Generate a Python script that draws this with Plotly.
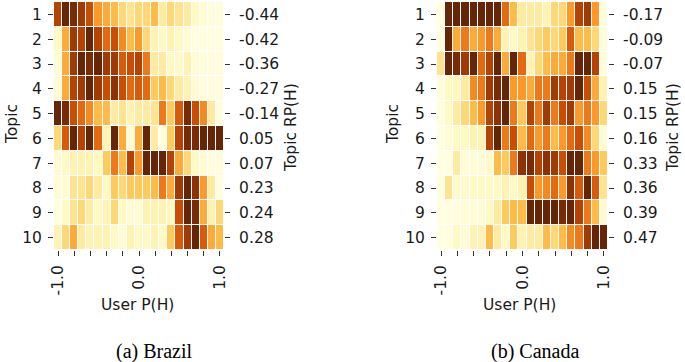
import plotly.graph_objects as go

bins = [-1.0, -0.9, -0.8, -0.7, -0.6, -0.5, -0.4, -0.3, -0.2, -0.1, 0.0,
        0.1, 0.2, 0.3, 0.4, 0.5, 0.6, 0.7, 0.8, 0.9, 1.0]
topics = [1, 2, 3, 4, 5, 6, 7, 8, 9, 10]
x_tick_vals = [-1.0, -0.8, -0.6, -0.4, -0.2, 0.0, 0.2, 0.4, 0.6, 0.8, 1.0]
x_tick_text = ["-1.0", "", "", "", "", "0.0", "", "", "", "", "1.0"]

brazil_rp = ["-0.44", "-0.42", "-0.36", "-0.27", "-0.14", "0.05", "0.07", "0.23", "0.24", "0.28"]
canada_rp = ["-0.17", "-0.09", "-0.07", "0.15", "0.15", "0.16", "0.33", "0.36", "0.39", "0.47"]

brazil_z = [
    [0.8, 1.0, 0.95, 0.85, 0.75, 0.5, 0.45, 0.4, 0.3, 0.25, 0.3, 0.3, 0.4, 0.2, 0.3, 0.25, 0.2, 0.1, 0.05, 0.03, 0.03],
    [0.1, 0.45, 0.85, 0.8, 1.0, 0.8, 0.65, 0.75, 0.55, 0.4, 0.5, 0.3, 0.15, 0.1, 0.15, 0.1, 0.05, 0.02, 0.02, 0.02, 0.02],
    [0.05, 0.45, 0.85, 1.0, 0.95, 1.0, 0.85, 0.85, 0.7, 0.75, 0.8, 0.6, 0.2, 0.2, 0.1, 0.08, 0.15, 0.05, 0.03, 0.03, 0.03],
    [0.05, 0.45, 0.8, 0.85, 1.0, 0.85, 0.75, 0.9, 0.75, 0.65, 0.7, 0.65, 0.35, 0.4, 0.3, 0.2, 0.15, 0.05, 0.03, 0.03, 0.03],
    [1.0, 0.95, 0.75, 0.65, 0.55, 0.4, 0.4, 0.2, 0.25, 0.15, 0.2, 0.2, 0.25, 0.6, 0.35, 0.7, 0.95, 0.75, 0.55, 0.2, 0.02],
    [0.3, 0.7, 1.0, 0.8, 1.0, 0.65, 0.15, 1.0, 0.45, 0.05, 0.45, 1.0, 0.2, 0.02, 0.35, 0.8, 0.95, 0.95, 1.0, 1.0, 1.0],
    [0.05, 0.1, 0.15, 0.15, 0.15, 0.1, 0.35, 0.6, 0.4, 0.8, 0.5, 1.0, 1.0, 1.0, 0.8, 0.45, 0.3, 0.1, 0.05, 0.03, 0.03],
    [0.05, 0.05, 0.25, 0.25, 0.3, 0.2, 0.1, 0.35, 0.3, 0.35, 0.35, 0.35, 0.4, 0.6, 0.45, 0.85, 1.0, 0.9, 0.5, 0.2, 0.02],
    [0.02, 0.1, 0.25, 0.3, 0.2, 0.1, 0.15, 0.3, 0.1, 0.05, 0.05, 0.15, 0.15, 0.15, 0.1, 0.75, 1.0, 0.95, 0.45, 0.15, 0.3],
    [0.15, 0.3, 0.45, 0.2, 0.15, 0.15, 0.15, 0.1, 0.05, 0.15, 0.1, 0.1, 0.15, 0.1, 0.35, 0.7, 0.85, 1.0, 0.7, 0.45, 0.4],
]

canada_z = [
    [0.02, 1.0, 1.0, 1.0, 1.0, 1.0, 1.0, 1.0, 0.65, 0.4, 0.2, 0.2, 0.2, 0.15, 0.3, 0.3, 0.5, 0.8, 0.85, 0.5, 0.03],
    [0.02, 1.0, 0.45, 0.6, 0.45, 0.5, 0.6, 0.45, 0.15, 0.1, 0.15, 0.25, 0.3, 0.35, 0.3, 0.35, 0.7, 0.4, 0.4, 0.3, 0.03],
    [0.25, 1.0, 0.95, 0.85, 1.0, 0.65, 0.8, 1.0, 0.45, 1.0, 0.65, 0.15, 0.3, 0.4, 0.45, 0.45, 0.6, 1.0, 1.0, 0.8, 0.03],
    [0.03, 0.1, 0.12, 0.2, 0.55, 0.6, 0.85, 0.95, 1.0, 0.5, 0.5, 0.45, 0.6, 0.6, 0.85, 0.8, 0.85, 1.0, 0.75, 0.45, 0.15],
    [0.03, 0.1, 0.2, 0.3, 0.4, 0.5, 0.8, 0.9, 1.0, 0.6, 0.35, 0.8, 0.6, 0.85, 0.6, 0.75, 0.85, 0.5, 0.6, 0.5, 0.3],
    [0.02, 0.05, 0.1, 0.1, 0.15, 0.15, 0.8, 1.0, 0.6, 0.75, 0.4, 0.65, 0.5, 0.6, 0.4, 0.5, 0.65, 0.75, 0.55, 0.3, 0.05],
    [0.02, 0.02, 0.2, 0.05, 0.05, 0.05, 0.08, 0.4, 0.35, 0.6, 0.9, 0.95, 0.8, 0.9, 0.85, 0.75, 1.0, 1.0, 0.6, 0.5, 0.35],
    [0.02, 0.25, 0.08, 0.08, 0.1, 0.1, 0.1, 0.1, 0.15, 0.1, 0.15, 0.75, 0.5, 0.55, 0.65, 0.5, 0.9, 0.7, 1.0, 0.7, 0.25],
    [0.02, 0.02, 0.03, 0.05, 0.05, 0.05, 0.1, 0.2, 0.35, 0.4, 0.4, 1.0, 1.0, 1.0, 1.0, 0.95, 1.0, 0.8, 0.6, 0.4, 0.05],
    [0.02, 0.03, 0.1, 0.05, 0.15, 0.15, 0.4, 0.2, 0.1, 0.35, 0.15, 0.2, 0.2, 0.4, 0.3, 0.4, 0.55, 0.6, 0.85, 1.0, 1.0],
]

W, H = 685, 362
FONT = "DejaVu Sans"
FS = 15.5
TXT = "#1a1a1a"


def px(x):
    return x / W


def py(y):
    return (H - y) / H


fig = go.Figure()
for z, xa, ya, yr in [(brazil_z, "x", "y", "y2"), (canada_z, "x2", "y3", "y4")]:
    fig.add_trace(go.Heatmap(
        z=z, x=bins, y=topics, xaxis=xa, yaxis=ya,
        colorscale="YlOrBr", zmin=0, zmax=1, showscale=False,
        xgap=1, ygap=1, hoverinfo="skip",
    ))
    # transparent copy so the right-hand axis (topic RP(H)) is drawn
    fig.add_trace(go.Heatmap(
        z=z, x=bins, y=topics, xaxis=xa, yaxis=yr,
        colorscale="YlOrBr", zmin=0, zmax=1, showscale=False,
        opacity=0, hoverinfo="skip",
    ))

ydom = [py(250), py(2)]
panels = [
    ("xaxis", "yaxis", "yaxis2", "x", "y", [px(54), px(224)], brazil_rp),
    ("xaxis2", "yaxis3", "yaxis4", "x2", "y3", [px(437), px(608)], canada_rp),
]
layout = dict(
    width=W, height=H,
    margin=dict(l=0, r=0, t=0, b=0),
    paper_bgcolor="white", plot_bgcolor="white",
    font=dict(family=FONT, size=FS, color=TXT),
    showlegend=False,
)
tick_common = dict(ticks="outside", ticklen=5, tickwidth=1, tickcolor="#333",
                   showgrid=False, zeroline=False, showline=False,
                   automargin=False, tickfont=dict(size=FS))
for xk, yk, yrk, xid, yid, xdom, rp in panels:
    layout[xk] = dict(
        domain=xdom, anchor=yid, range=[-1.05, 1.05],
        tickmode="array", tickvals=x_tick_vals, ticktext=x_tick_text,
        tickangle=-90, ticklabelstandoff=3, **tick_common,
    )
    layout[yk] = dict(
        domain=ydom, anchor=xid, range=[10.5, 0.5],
        tickmode="array", tickvals=topics, ticktext=[str(t) for t in topics],
        ticklabelstandoff=3, **tick_common,
    )
    layout[yrk] = dict(
        domain=ydom, anchor=xid, overlaying=yid, side="right", range=[10.5, 0.5],
        tickmode="array", tickvals=topics, ticktext=rp,
        ticklabelstandoff=6, **tick_common,
    )
fig.update_layout(**layout)

# axis titles
titles = [
    ("Topic", 12, 124, -90),
    ("Topic RP(H)", 291, 128, -90),
    ("User P(H)", 137, 305, 0),
    ("Topic", 393, 124, -90),
    ("Topic RP(H)", 673, 128, -90),
    ("User P(H)", 519, 305, 0),
]
for text, x, y, ang in titles:
    fig.add_annotation(
        text=text, x=px(x), y=py(y), xref="paper", yref="paper",
        showarrow=False, xanchor="center", yanchor="middle", textangle=ang,
        font=dict(family=FONT, size=FS, color=TXT),
    )

captions = [("(a) Brazil", 154), ("(b) Canada", 535)]
for text, x in captions:
    fig.add_annotation(
        text=text, x=px(x), y=py(351), xref="paper", yref="paper",
        showarrow=False, xanchor="center", yanchor="middle",
        font=dict(family="Liberation Serif", size=20, color="black"),
    )

fig.write_html("out.html", config={"displayModeBar": False},
               post_script="document.body.style.margin='0';")
